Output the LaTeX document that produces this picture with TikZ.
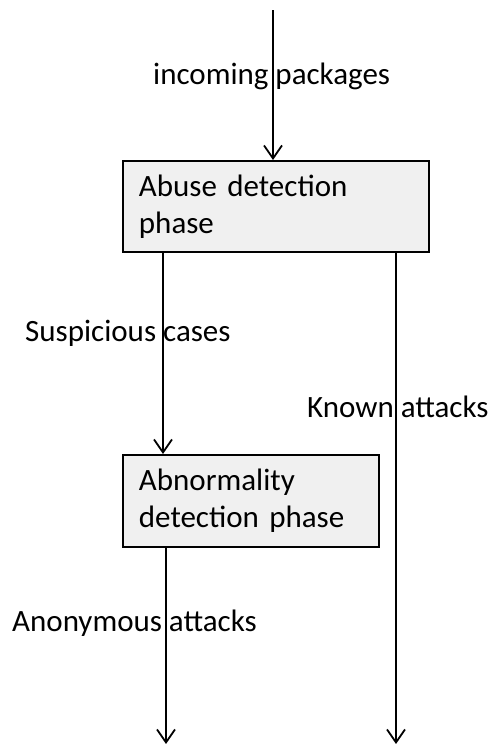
\documentclass[tikz,border=0pt]{standalone}
\usepackage{fontspec}
\setmainfont{Carlito}
\usetikzlibrary{arrows.meta}
\definecolor{boxfill}{RGB}{240,240,240}
\begin{document}
\begin{tikzpicture}[x=1pt,y=1pt,
  every node/.style={font=\fontsize{31}{37}\selectfont},
  phasebox/.style={draw=black, line width=1.9pt, fill=boxfill, inner xsep=16pt, inner ysep=0pt, align=left, anchor=north west},
  flow/.style={line width=1.8pt, -{Straight Barb[length=13pt,width=18pt,line width=1.8pt]}},
  lbl/.style={anchor=base west, inner sep=0pt}]
\useasboundingbox (0,0) rectangle (488,-744);
% boxes
\node[phasebox, minimum width=306pt, minimum height=91pt, text width=274pt] (abuse) at (122,-160) {Abuse detection\\phase};
\node[phasebox, minimum width=256pt, minimum height=92pt, text width=224pt] (abnorm) at (122,-454) {Abnormality\\detection phase};
% coordinates
\coordinate (in) at (273,-10);
\coordinate (c1) at (163,-744);
\coordinate (c2) at (166,-744);
\coordinate (c3) at (396,-744);
% connectors
\draw[flow] (in) -- (in |- abuse.north);
\draw[flow] (abuse.south -| c1) -- (abnorm.north -| c1);
\draw[flow] (abuse.south -| c3) -- (c3);
\draw[flow] (abnorm.south -| c2) -- (c2);
% labels
\node[lbl] (l1) at (153,-84) {incoming packages};
\node[lbl] (l2) at (25,-341) {Suspicious cases};
\node[lbl] (l3) at (307,-417) {Known attacks};
\node[lbl] (l4) at (12,-631) {Anonymous attacks};
\end{tikzpicture}
\end{document}
